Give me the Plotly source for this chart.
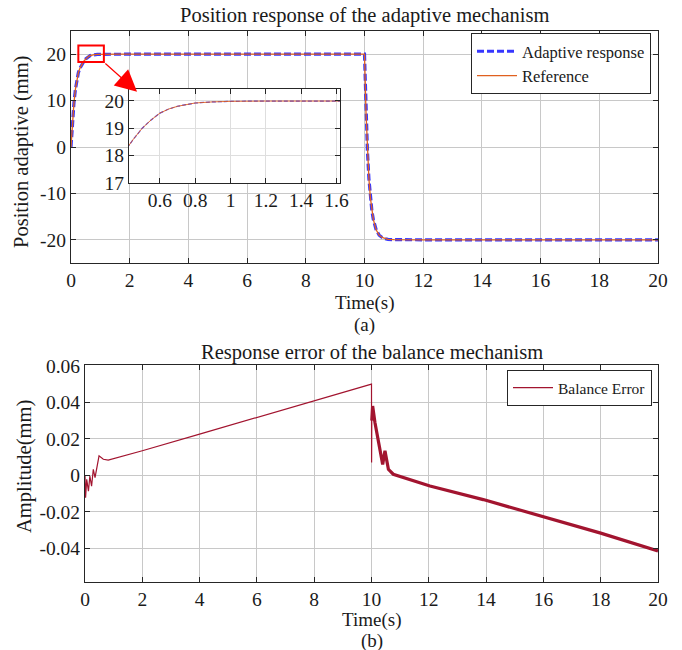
import plotly.graph_objects as go

# ---------------- data ----------------
pos_time = [0, 0.05, 0.1, 0.15, 0.2, 0.25, 0.3, 0.35, 0.4, 0.425,
            0.45, 0.5, 0.55, 0.6, 0.65, 0.7, 0.75, 0.8, 0.9, 1.0,
            1.2, 1.4, 1.6, 2, 10,
            10.05, 10.1, 10.15, 10.2, 10.25, 10.3, 10.4, 10.5, 10.6, 10.7,
            10.8, 11, 11.2, 12, 20]
reference_pos = [0, 5.5, 9.5, 12.4, 14.5, 16.0, 16.9, 17.6, 18.15, 18.4,
                 18.6, 19.0, 19.3, 19.55, 19.7, 19.8, 19.87, 19.92, 19.96, 19.98,
                 19.99, 20, 20, 20, 20,
                 7.6, -0.9, -6.8, -10.9, -13.7, -15.6, -17.9, -19.0, -19.5, -19.77,
                 -19.9, -19.97, -20, -20, -20]
adaptive_pos = [0, 5.5, 9.5, 12.4, 14.5, 16.0, 16.9, 17.6, 18.15, 18.4,
                18.6, 19.0, 19.3, 19.55, 19.7, 19.8, 19.87, 19.92, 19.96, 19.98,
                19.99, 20, 20, 20, 20,
                7.6, -0.9, -6.8, -10.9, -13.7, -15.6, -17.9, -19.0, -19.5, -19.77,
                -19.9, -19.97, -20, -20, -20]

err_time_a = [0, 0.02, 0.06, 0.12, 0.17, 0.23, 0.29, 0.35, 0.49, 0.64,
              0.81, 1, 2, 4, 6, 8, 10, 10.003, 10.01]
err_val_a = [0, -0.0123, -0.0022, -0.0087, -0.0004, -0.0059, 0.0033, -0.0013, 0.0107, 0.0088,
             0.0083, 0.0091, 0.0135, 0.0226, 0.0316, 0.0408, 0.050, 0.007, 0.030]
err_time_b = [10.01, 10.04, 10.12, 10.3, 10.39, 10.47, 10.59, 10.76, 11, 12.04,
              13.9, 16, 18, 20]
err_val_b = [0.030, 0.038, 0.029, 0.0144, 0.006, 0.0134, 0.0033, 0.0006, -0.0007, -0.0059,
             -0.0133, -0.0227, -0.0317, -0.0415]

x_ticks = [0, 2, 4, 6, 8, 10, 12, 14, 16, 18, 20]
top_y_ticks = [-20, -10, 0, 10, 20]
top_y_labels = ["-20", "-10", "0", "10", "20"]
bot_y_ticks = [-0.04, -0.02, 0, 0.02, 0.04, 0.06]
bot_y_labels = ["-0.04", "-0.02", "0", "0.02", "0.04", "0.06"]
inset_x_ticks = [0.6, 0.8, 1.0, 1.2, 1.4, 1.6]
inset_x_labels = ["0.6", "0.8", "1", "1.2", "1.4", "1.6"]
inset_y_ticks = [17, 18, 19, 20]

# ---------------- style ----------------
W, H = 682, 650
FONT = "Liberation Serif"
BLUE = "rgba(20,20,255,0.85)"
ORANGE = "#E0601F"
CRIMSON = "#A2142F"
GRID = "#c8c8c8"
AX = "#262626"
TXT = "#1a1a1a"
TICK_SIZE = 19.5


def px(xp):
    return xp / W


def py(yp):
    return 1 - yp / H


fig = go.Figure()

fig.add_trace(go.Scatter(x=pos_time, y=adaptive_pos, mode="lines", name="Adaptive response",
                         line=dict(color=BLUE, width=3.2, dash="7px,3px"),
                         xaxis="x", yaxis="y", legend="legend"))
fig.add_trace(go.Scatter(x=pos_time, y=reference_pos, mode="lines", name="Reference",
                         line=dict(color=ORANGE, width=1.3),
                         xaxis="x", yaxis="y", legend="legend"))
# inset
fig.add_trace(go.Scatter(x=pos_time, y=adaptive_pos, mode="lines", showlegend=False,
                         line=dict(color=BLUE, width=1.2, dash="4px,2px"),
                         xaxis="x3", yaxis="y3"))
fig.add_trace(go.Scatter(x=pos_time, y=reference_pos, mode="lines", showlegend=False,
                         line=dict(color=ORANGE, width=0.9),
                         xaxis="x3", yaxis="y3"))
# error
fig.add_trace(go.Scatter(x=err_time_a, y=err_val_a, mode="lines", name="Balance Error",
                         line=dict(color=CRIMSON, width=1.2),
                         xaxis="x2", yaxis="y2", legend="legend2"))
fig.add_trace(go.Scatter(x=err_time_b, y=err_val_b, mode="lines", showlegend=False,
                         line=dict(color=CRIMSON, width=3.2),
                         xaxis="x2", yaxis="y2"))

axis_common = dict(showgrid=True, gridcolor=GRID, gridwidth=1, showline=True, linecolor=AX,
                   linewidth=1, mirror="ticks", ticks="inside", ticklen=5, tickcolor=AX,
                   zeroline=False, automargin=False,
                   tickfont=dict(family=FONT, size=TICK_SIZE, color=TXT))

fig.update_layout(
    width=W, height=H, margin=dict(l=0, r=0, t=0, b=0, pad=0, autoexpand=False),
    paper_bgcolor="white", plot_bgcolor="white",
    font=dict(family=FONT, size=16, color=TXT),
    xaxis=dict(axis_common, domain=[px(71), px(658)], anchor="y", range=[0, 20],
               tickvals=x_ticks),
    yaxis=dict(axis_common, domain=[py(263), py(31)], anchor="x", range=[-25, 25],
               tickvals=top_y_ticks, ticktext=top_y_labels),
    xaxis2=dict(axis_common, domain=[px(85), px(658)], anchor="y2", range=[0, 20],
                tickvals=x_ticks),
    yaxis2=dict(axis_common, domain=[py(582), py(365)], anchor="x2", range=[-0.0585, 0.0605],
                tickvals=bot_y_ticks, ticktext=bot_y_labels),
    xaxis3=dict(axis_common, domain=[px(129), px(340)], anchor="y3", range=[0.425, 1.62],
                tickvals=inset_x_ticks, ticktext=inset_x_labels, gridcolor="#dedede"),
    yaxis3=dict(axis_common, domain=[py(183), py(89)], anchor="x3", range=[17, 20.43],
                tickvals=inset_y_ticks, gridcolor="#dedede"),
    legend=dict(x=px(651), y=py(33), xanchor="right", yanchor="top",
                bgcolor="white", bordercolor=AX, borderwidth=1,
                font=dict(family=FONT, size=16.5), tracegroupgap=0, itemwidth=40),
    legend2=dict(x=px(652), y=py(370), xanchor="right", yanchor="top",
                 bgcolor="white", bordercolor=AX, borderwidth=1,
                 font=dict(family=FONT, size=15.5), itemwidth=40),
    showlegend=True,
)

# white backing for the inset (hides main-plot grid)
fig.add_shape(type="rect", xref="paper", yref="paper", x0=px(106), x1=px(346),
              y0=py(210), y1=py(89), fillcolor="white", line=dict(width=0), layer="between")

# red zoom box and arrow
fig.add_shape(type="rect", xref="x", yref="y", x0=0.25, x1=1.12, y0=18.3, y1=21.9,
              line=dict(color="red", width=2), layer="above")
fig.add_annotation(x=2.25, y=11.9, ax=1.12, ay=18.3, xref="x", yref="y", axref="x", ayref="y",
                   showarrow=True, arrowhead=2, arrowsize=3.6, arrowwidth=1.2,
                   arrowcolor="red", text="")

texts = [
    ("Position response of the adaptive mechanism", 364.5, 15, 20.5, 0),
    ("Time(s)", 364.5, 303, 19, 0),
    ("(a)", 364.5, 325, 19, 0),
    ("Position adaptive (mm)", 22, 152, 20.5, -90),
    ("Response error of the balance mechanism", 371.5, 352, 20.5, 0),
    ("Time(s)", 371.5, 620, 19, 0),
    ("(b)", 371.5, 641, 19, 0),
    ("Amplitude(mm)", 24, 467, 20.5, -90),
]
for t, xp, yp, sz, ang in texts:
    fig.add_annotation(text=t, x=px(xp), y=py(yp), xref="paper", yref="paper",
                       showarrow=False, xanchor="center", yanchor="middle",
                       textangle=ang, font=dict(family=FONT, size=sz, color=TXT))

fig.write_html("out.html")
